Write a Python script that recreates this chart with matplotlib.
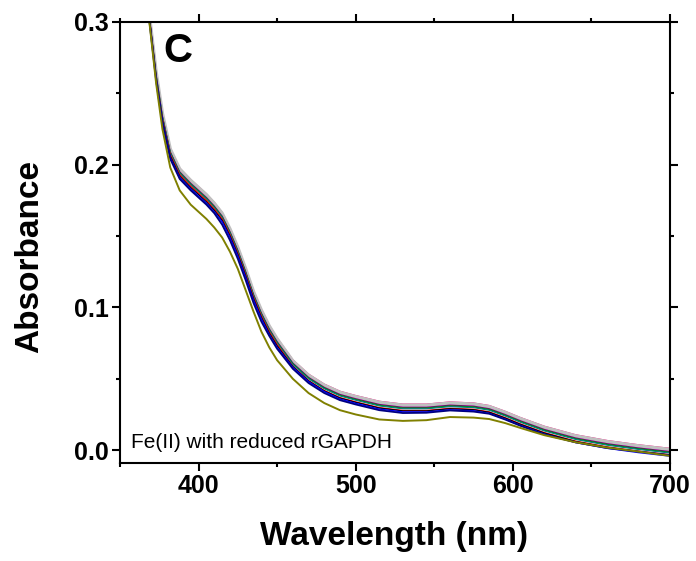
import matplotlib
matplotlib.use("Agg")
import matplotlib.pyplot as plt
from matplotlib.ticker import MultipleLocator

plt.rcParams["font.family"] = ["Liberation Sans", "DejaVu Sans"]

# wavelength grid (nm)
wavelength = [364, 369, 373, 377, 382, 388, 395, 400, 405, 410, 415, 420,
              425, 430, 435, 440, 445, 450, 460, 470, 480, 490, 500, 515,
              530, 545, 560, 575, 585, 595, 605, 620, 640, 660, 680, 700]

# absorbance traces (bundle from lowest to highest) + the low olive trace
navy = [0.343, 0.298, 0.259, 0.229, 0.204, 0.190, 0.182, 0.177, 0.172, 0.166, 0.158, 0.147,
        0.134, 0.119, 0.103, 0.090, 0.080, 0.071, 0.057, 0.047, 0.040, 0.035, 0.032, 0.028,
        0.026, 0.0262, 0.0278, 0.027, 0.0255, 0.0215, 0.017, 0.011, 0.0055, 0.0015, -0.001, -0.0035]
blue = [0.344, 0.299, 0.260, 0.230, 0.205, 0.191, 0.183, 0.178, 0.173, 0.167, 0.160, 0.149,
        0.136, 0.121, 0.105, 0.092, 0.081, 0.072, 0.058, 0.048, 0.041, 0.0358, 0.0328, 0.0288,
        0.0268, 0.0268, 0.0283, 0.0276, 0.0258, 0.0218, 0.0173, 0.0113, 0.0053, 0.0013, -0.0017, -0.0042]
black = [0.344, 0.299, 0.260, 0.231, 0.206, 0.192, 0.184, 0.179, 0.174, 0.168, 0.161, 0.150,
         0.137, 0.122, 0.106, 0.093, 0.082, 0.073, 0.0585, 0.0485, 0.0415, 0.0365, 0.0335, 0.0295,
         0.0275, 0.0275, 0.029, 0.0283, 0.0265, 0.0225, 0.018, 0.012, 0.006, 0.002, -0.001, -0.0035]
red = [0.345, 0.300, 0.261, 0.232, 0.207, 0.193, 0.185, 0.180, 0.175, 0.169, 0.162, 0.151,
       0.138, 0.123, 0.107, 0.094, 0.083, 0.074, 0.0588, 0.0488, 0.0418, 0.0368, 0.0338, 0.0298,
       0.0278, 0.0278, 0.0293, 0.0286, 0.0268, 0.0228, 0.0183, 0.0123, 0.0063, 0.0023, -0.0007, -0.0032]
dark_cyan = [0.345, 0.300, 0.262, 0.233, 0.208, 0.194, 0.186, 0.181, 0.176, 0.170, 0.163, 0.152,
             0.139, 0.124, 0.108, 0.095, 0.084, 0.075, 0.060, 0.050, 0.043, 0.038, 0.035, 0.031,
             0.029, 0.029, 0.0305, 0.0298, 0.028, 0.024, 0.0195, 0.0135, 0.0075, 0.0035, 0.0005, -0.002]
green = [0.345, 0.300, 0.2625, 0.2335, 0.2085, 0.1945, 0.1865, 0.1815, 0.1765, 0.1705, 0.1635, 0.1525,
         0.1395, 0.1245, 0.1085, 0.0955, 0.0845, 0.0755, 0.0605, 0.0505, 0.0435, 0.0385, 0.0355, 0.0315,
         0.0295, 0.0295, 0.031, 0.0303, 0.0285, 0.0245, 0.020, 0.014, 0.008, 0.004, 0.001, -0.0015]
purple = [0.346, 0.301, 0.263, 0.234, 0.209, 0.195, 0.187, 0.182, 0.177, 0.171, 0.164, 0.153,
          0.140, 0.125, 0.109, 0.096, 0.085, 0.076, 0.061, 0.051, 0.044, 0.039, 0.036, 0.032,
          0.030, 0.030, 0.0315, 0.0308, 0.029, 0.025, 0.0205, 0.0145, 0.0085, 0.0045, 0.0015, -0.001]
magenta = [0.346, 0.301, 0.264, 0.235, 0.210, 0.196, 0.188, 0.183, 0.178, 0.172, 0.165, 0.154,
           0.141, 0.126, 0.110, 0.097, 0.086, 0.077, 0.0618, 0.0518, 0.0448, 0.0398, 0.0368, 0.0328,
           0.0308, 0.0308, 0.0323, 0.0316, 0.0298, 0.0258, 0.0213, 0.0153, 0.0093, 0.0053, 0.0023, -0.0002]
light_gray = [0.347, 0.302, 0.265, 0.236, 0.211, 0.197, 0.189, 0.184, 0.179, 0.173, 0.166, 0.155,
              0.142, 0.127, 0.111, 0.098, 0.087, 0.078, 0.0625, 0.0525, 0.0455, 0.0405, 0.0375, 0.0335,
              0.0315, 0.0315, 0.033, 0.0323, 0.0305, 0.0265, 0.022, 0.016, 0.010, 0.006, 0.003, 0.0005]
pink = [0.347, 0.302, 0.2655, 0.2365, 0.2115, 0.1975, 0.1895, 0.1845, 0.1795, 0.1735, 0.1665, 0.1555,
        0.1425, 0.1275, 0.1115, 0.0985, 0.0875, 0.0785, 0.0632, 0.0532, 0.0462, 0.0412, 0.0382, 0.0342,
        0.0322, 0.0322, 0.0337, 0.033, 0.0312, 0.0272, 0.0227, 0.0167, 0.0107, 0.0067, 0.0037, 0.0012]
olive = [0.343, 0.297, 0.257, 0.225, 0.198, 0.182, 0.172, 0.167, 0.162, 0.156, 0.149, 0.139,
         0.127, 0.112, 0.097, 0.083, 0.072, 0.063, 0.050, 0.040, 0.033, 0.028, 0.025, 0.0215,
         0.0205, 0.021, 0.0232, 0.0228, 0.0218, 0.019, 0.0155, 0.0105, 0.0055, 0.0018, -0.001, -0.004]

# drawing order: pink edge under the gray band, bundle, then the darker lower traces
traces = [
    (pink, "#FF0080", 1.0),
    (magenta, "#FF00FF", 0.9),
    (light_gray, "#C0C0C0", 2.4),
    (purple, "#800080", 0.9),
    (green, "#008000", 0.9),
    (dark_cyan, "#008080", 0.9),
    (red, "#FF0000", 0.9),
    (black, "#000000", 0.9),
    (blue, "#0000FF", 1.0),
    (navy, "#000080", 1.3),
    (olive, "#808000", 1.4),
]

fig = plt.figure(figsize=(6.96, 5.61), dpi=100)
ax = fig.add_axes([0.1724, 0.1747, 0.7902, 0.7861])

for y, c, lw in traces:
    ax.plot(wavelength, y, color=c, linewidth=lw)

ax.set_xlim(350, 700)
ax.set_ylim(-0.009, 0.3)

ax.xaxis.set_major_locator(MultipleLocator(100))
ax.xaxis.set_minor_locator(MultipleLocator(50))
ax.yaxis.set_major_locator(MultipleLocator(0.1))
ax.yaxis.set_minor_locator(MultipleLocator(0.05))
ax.set_xticks([400, 500, 600, 700])
ax.set_yticks([0.0, 0.1, 0.2, 0.3])
ax.set_yticklabels(["0.0", "0.1", "0.2", "0.3"])

ax.tick_params(which="both", direction="out", top=True, right=True, width=1.5,
               labelsize=18, pad=2)
ax.tick_params(which="major", length=6)
ax.tick_params(which="minor", length=3)
for lab in ax.get_xticklabels() + ax.get_yticklabels():
    lab.set_fontweight("bold")
for s in ax.spines.values():
    s.set_linewidth(1.5)

ax.set_xlabel("Wavelength (nm)", fontsize=24, fontweight="bold", va="center")
ax.set_ylabel("Absorbance", fontsize=24, fontweight="bold", va="center")
ax.xaxis.set_label_coords(0.498, -0.166)
ax.yaxis.set_label_coords(-0.165, 0.469)

ax.text(0.078, 0.909, "C", transform=ax.transAxes, fontsize=29,
        fontweight="bold", va="baseline", ha="left")
ax.text(0.02, 0.034, "Fe(II) with reduced rGAPDH", transform=ax.transAxes,
        fontsize=15, va="baseline", ha="left")

fig.savefig("out.png", dpi=100)
plt.close(fig)
